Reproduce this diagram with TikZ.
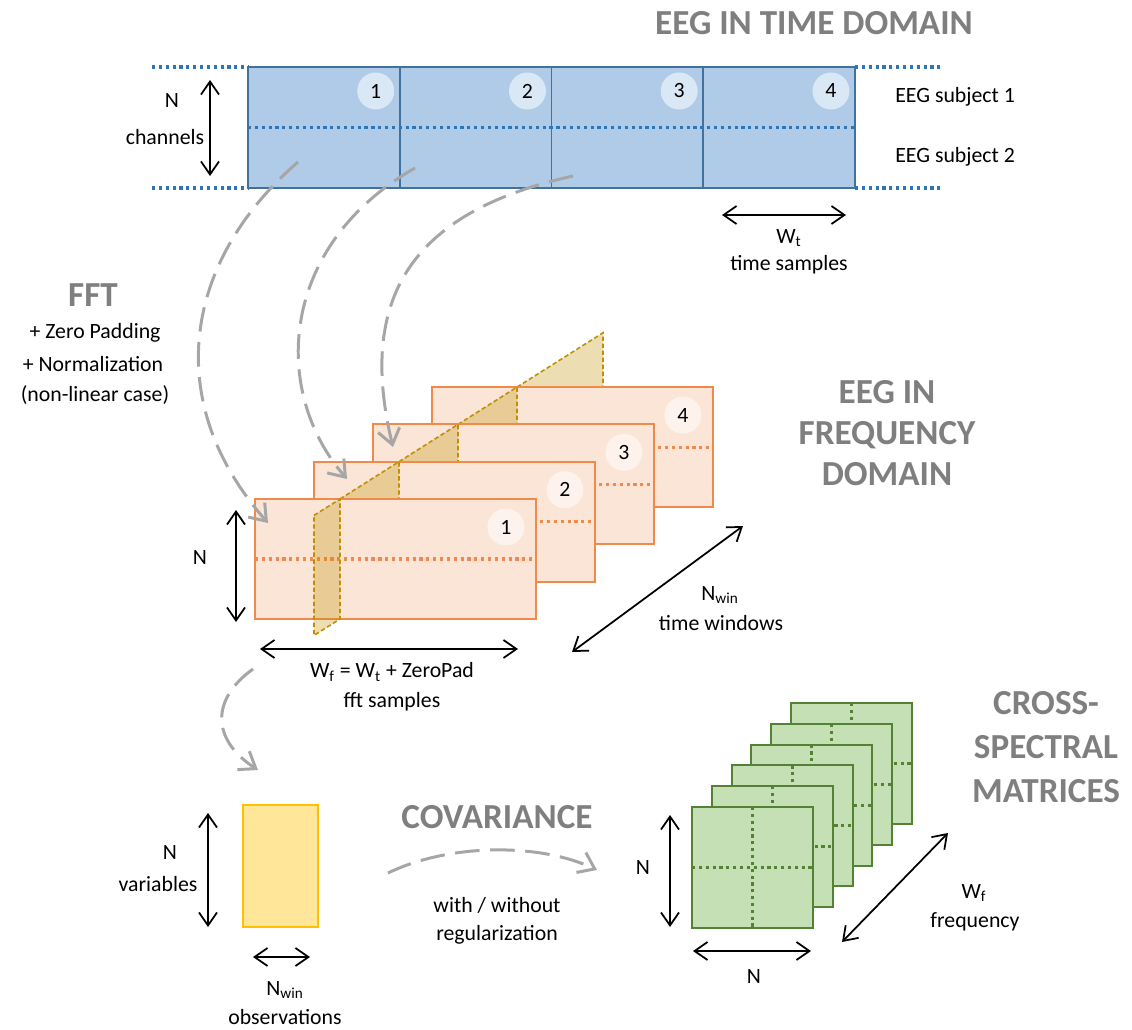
\documentclass[tikz,border=0pt]{standalone}
\usepackage{fontspec}
\setmainfont{Carlito}
\usetikzlibrary{positioning, arrows.meta, calc}

\definecolor{bluefill}{HTML}{AFCBE8}
\definecolor{blueline}{HTML}{41719C}
\definecolor{bluedot}{HTML}{2E75B6}
\definecolor{orangefill}{HTML}{FBE5D6}
\definecolor{orangeline}{HTML}{F08A4B}
\definecolor{goldline}{HTML}{BF9000}
\definecolor{greenfill}{HTML}{C5E0B4}
\definecolor{greenline}{HTML}{548235}
\definecolor{yellowfill}{HTML}{FFE699}
\definecolor{yellowline}{HTML}{FFC000}
\definecolor{flowgray}{HTML}{A6A6A6}
\definecolor{titlegray}{HTML}{7F7F7F}

\begin{document}
\begin{tikzpicture}[
    x=0.02cm, y=-0.02cm,
    % Text styles
    every node/.style={font=\fontsize{12.4}{15.5}\selectfont},
    lbl/.style={align=center, inner sep=0pt},
    title/.style={font=\bfseries\fontsize{20}{23.3}\selectfont, text=titlegray, align=center, inner sep=0pt},
    % Boxes
    tcell/.style={fill=bluefill, minimum width=3.035cm,
        minimum height=2.42cm, inner sep=0pt, outer sep=0pt, anchor=north west},
    winbox/.style={draw=orangeline, fill=orangefill, line width=1.1pt, minimum width=5.62cm,
        minimum height=2.4cm, inner sep=0pt, outer sep=0pt, anchor=north west},
    csmbox/.style={draw=greenline, fill=greenfill, line width=1.1pt, minimum size=2.42cm,
        inner sep=0pt, outer sep=0pt, anchor=north west},
    obsbox/.style={draw=yellowline, fill=yellowfill, line width=1.1pt, minimum width=1.5cm,
        minimum height=2.44cm, inner sep=0pt, outer sep=0pt, anchor=north west},
    numdot/.style={circle, fill=white, fill opacity=0.55, text opacity=1, minimum size=0.74cm, inner sep=0pt},
    plane/.style={draw=goldline, fill=goldline, fill opacity=0.3, line width=0.9pt, dash pattern=on 2.5pt off 1.5pt},
    % Dotted separators
    bluedots/.style={bluedot, line width=1.8pt, dash pattern=on 1.8pt off 2.1pt},
    orangedots/.style={orangeline, line width=1.8pt, dash pattern=on 1.8pt off 2.1pt},
    greendots/.style={greenline, line width=1.8pt, dash pattern=on 1.8pt off 2.1pt},
    % Arrows
    dim/.style={{Straight Barb[length=2.6mm,width=3.6mm]}-{Straight Barb[length=2.6mm,width=3.6mm]}, line width=1pt},
    flow/.style={-{Straight Barb[length=3mm,width=4.4mm]}, flowgray, line width=1.7pt, dash pattern=on 14pt off 6pt},
]
\useasboundingbox (0,0) rectangle (1132,1030);

% ============================================================
% EEG IN TIME DOMAIN
% ============================================================
\node[title] (ttime) at (814,23) {EEG IN TIME DOMAIN};

\draw[bluedots] (152,67) -- (248,67);
\draw[bluedots] (152,188) -- (248,188);
\draw[bluedots] (855,67) -- (942,67);
\draw[bluedots] (855,188) -- (942,188);

\foreach \i in {1,2,3,4} {
    \node[tcell] (t\i) at ({248+151.75*(\i-1)}, 67) {};
}
\draw[bluedots] (t1.west) -- (t4.east);
% borders on top so the shared edges keep full width
\foreach \i in {1,2,3,4} {
    \draw[blueline, line width=1.1pt] (t\i.north west) rectangle (t\i.south east);
    \node[numdot] (tn\i) at ($(t\i.north east)+(-24,24)$) {\i};
}

\coordinate (chtop) at (210,80);
\coordinate (chbot) at (210,176);
\draw[dim] (chtop) -- (chbot);
\node[lbl] (lchN) at (172,101) {N};
\node[lbl] (lch) at (165,137) {channels};

\node[lbl, anchor=west] (subj1) at (895,97) {EEG subject 1};
\node[lbl, anchor=west] (subj2) at (895,157) {EEG subject 2};

\coordinate (wtl) at (722,215);
\coordinate (wtr) at (846,215);
\draw[dim] (wtl) -- (wtr);
\node[lbl] (lwt) at (789,238) {W\textsubscript{t}};
\node[lbl] (lwts) at (789,265) {time samples};

% ============================================================
% FFT
% ============================================================
\node[title] (tfft) at (93,295) {FFT};
\node[lbl] (lzp) at (95,333) {+ Zero Padding};
\node[lbl] (lnorm) at (93,364) {+ Normalization};
\node[lbl] (lnl) at (95,395) {(non-linear case)};

% ============================================================
% EEG IN FREQUENCY DOMAIN (windows back to front, plane slices between)
% ============================================================
\foreach \k/\xa/\ya/\xb/\yb in {4/517/387.1/603/332.8, 3/458/424.4/517/387.1,
                                2/399/461.7/458/424.4, 1/340/499/399/461.7} {
    \filldraw[plane] (\xa,\ya) -- (\xb,\yb) -- ({\xb},{\yb+120}) -- ({\xa},{\ya+120}) -- cycle;
    \node[winbox] (w\k) at ({255+59*(\k-1)}, {499-37.3*(\k-1)}) {};
    \draw[orangedots] (w\k.west) -- (w\k.east);
    \node[numdot] (wn\k) at ($(w\k.north east)+(-30,28)$) {\k};
}
\filldraw[plane] (314,515.4) -- (340,499) -- (340,619) -- (314,635.4) -- cycle;

\node[title] (tfreq) at (887,433) {EEG IN\\FREQUENCY\\DOMAIN};

\coordinate (fnt) at (236,510);
\coordinate (fnb) at (236,622);
\draw[dim] (fnt) -- (fnb);
\node[lbl] (lfN) at (200,558) {N};

\coordinate (wfl) at (260,649);
\coordinate (wfr) at (518,649);
\draw[dim] (wfl) -- (wfr);
\node[lbl] (lwf) at (392,672) {W\textsubscript{f} = W\textsubscript{t} + ZeroPad};
\node[lbl] (lwfs) at (392,702) {fft samples};

\coordinate (nwa) at (572,652);
\coordinate (nwb) at (743,526);
\draw[dim] (nwa) -- (nwb);
\node[lbl] (lnw) at (720,595) {N\textsubscript{win}};
\node[lbl] (lnws) at (721,623) {time windows};

% FFT flows: time cells -> windows
\coordinate (f1a) at (298,162);
\coordinate (f1b) at (268,523);
\coordinate (f2a) at (415,168);
\coordinate (f2b) at (347,479);
\coordinate (f3a) at (573,176);
\coordinate (f3b) at (393,447);
\draw[flow] (f1a) .. controls (185,260) and (160,400) .. (f1b);
\draw[flow] (f2a) .. controls (280,245) and (270,390) .. (f2b);
\draw[flow] (f3a) .. controls (420,210) and (355,290) .. (f3b);

% ============================================================
% OBSERVATIONS + COVARIANCE
% ============================================================
\coordinate (f4a) at (253,669);
\coordinate (f4b) at (258,770);
\draw[flow] (f4a) .. controls (210,700) and (212,740) .. (f4b);

\node[obsbox] (obs) at (243,805) {};
\coordinate (vnt) at (208,813);
\coordinate (vnb) at (208,927);
\draw[dim] (vnt) -- (vnb);
\node[lbl] (lvN) at (170,853) {N};
\node[lbl] (lvar) at (158,884) {variables};

\coordinate (obl) at (253,957);
\coordinate (obr) at (310,957);
\draw[dim] (obl) -- (obr);
\node[lbl] (lonw) at (285,990) {N\textsubscript{win}};
\node[lbl] (lobs) at (285,1017) {observations};

\node[title] (tcov) at (497,817) {COVARIANCE};
\coordinate (cova) at (388,873);
\coordinate (covb) at (597,870);
\draw[flow] (cova) .. controls (450,843) and (540,843) .. (covb);
\node[lbl] (lreg1) at (497,905) {with / without};
\node[lbl] (lreg2) at (497,935) {regularization};

% ============================================================
% CROSS-SPECTRAL MATRICES
% ============================================================
\foreach \k in {6,5,4,3,2,1} {
    \node[csmbox] (c\k) at ({692+19.8*(\k-1)}, {807-20.8*(\k-1)}) {};
    \draw[greendots] (c\k.north) -- (c\k.south);
    \draw[greendots] (c\k.west) -- (c\k.east);
}
\node[title, font=\bfseries\fontsize{20}{25}\selectfont] (tcsm) at (1046,747) {CROSS-\\SPECTRAL\\MATRICES};

\coordinate (cnt) at (670,815);
\coordinate (cnb) at (670,927);
\draw[dim] (cnt) -- (cnb);
\node[lbl] (lcN) at (643,868) {N};

\coordinate (cnl) at (693,951);
\coordinate (cnr) at (811,951);
\draw[dim] (cnl) -- (cnr);
\node[lbl] (lcN2) at (754,977) {N};

\coordinate (cwa) at (842,942);
\coordinate (cwb) at (948,833);
\draw[dim] (cwa) -- (cwb);
\node[lbl] (lcwf) at (974,893) {W\textsubscript{f}};
\node[lbl] (lcfr) at (975,922) {frequency};

\end{tikzpicture}
\end{document}
